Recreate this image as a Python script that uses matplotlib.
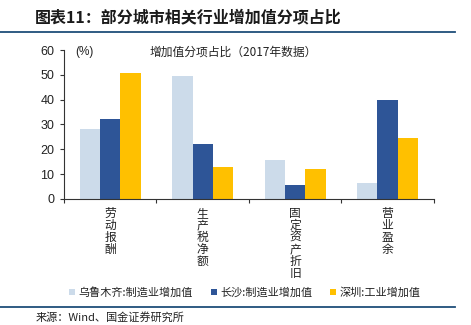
import matplotlib
matplotlib.use("Agg")
import matplotlib.pyplot as plt
import numpy as np

plt.rcParams["font.family"] = ["Noto Sans CJK SC", "DejaVu Sans"]

# 数据
categories = ["劳动报酬", "生产税净额", "固定资产折旧", "营业盈余"]
series_names = ["乌鲁木齐:制造业增加值", "长沙:制造业增加值", "深圳:工业增加值"]
urumqi = [28.2, 49.5, 15.5, 6.5]
changsha = [32.2, 22.3, 5.5, 40.0]
shenzhen = [50.6, 12.8, 12.0, 24.7]
yticks = [0, 10, 20, 30, 40, 50, 60]

COLORS = ["#CCDBEA", "#2E5597", "#FFC000"]
TEXT = "#222222"

fig = plt.figure(figsize=(4.71, 3.25), dpi=100)
fig.patch.set_facecolor("white")

# 标题
fig.text(0.075, 0.948, "图表11：部分城市相关行业增加值分项占比", fontsize=11.5,
         fontweight="bold", style="italic", color="#1a1a1a", va="center")
fig.add_artist(plt.Line2D([0.0, 0.965], [0.903, 0.903], color="#1F4E79", lw=1.3))

ax = fig.add_axes([0.136, 0.388, 0.785, 0.458])
x = np.arange(len(categories))
w = 0.22
for i, (vals, name) in enumerate(zip([urumqi, changsha, shenzhen], series_names)):
    ax.bar(x + (i - 1) * w, vals, w, color=COLORS[i], label=name, zorder=2)

ax.set_xlim(-0.5, len(categories) - 0.5)
ax.set_ylim(0, 60)
ax.set_yticks(yticks)
ax.set_yticklabels([str(v) for v in yticks], fontsize=9, color=TEXT,
                   family=["Liberation Sans", "DejaVu Sans"])
ax.set_xticks(np.arange(len(categories) + 1) - 0.5)
ax.set_xticklabels([])
ax.tick_params(axis="x", length=3, color="#333333", direction="out")
ax.tick_params(axis="y", length=3, color="#333333", direction="out", pad=4)
for s in ["top", "right"]:
    ax.spines[s].set_visible(False)
ax.spines["left"].set_color("#333333")
ax.spines["bottom"].set_color("#333333")

# 竖排分类标签
for xi, cat in zip(x, categories):
    ax.text(xi, -3.3, "\n".join(cat), ha="center", va="top", fontsize=8.5,
            color=TEXT, linespacing=0.9, transform=ax.transData, clip_on=False)

ax.text(0.03, 0.985, "(%)", transform=ax.transAxes, fontsize=8.5, color=TEXT,
        va="center", family=["Liberation Sans", "DejaVu Sans"])
ax.text(0.23, 0.985, "增加值分项占比（2017年数据）", transform=ax.transAxes,
        fontsize=8.5, color=TEXT, va="center")

leg = fig.legend(loc="center", bbox_to_anchor=(0.52, 0.1), ncol=3, frameon=False,
                 fontsize=8, handlelength=0.55, handleheight=0.55, handletextpad=0.3,
                 columnspacing=1.6)
for t in leg.get_texts():
    t.set_color(TEXT)

fig.add_artist(plt.Line2D([0.0, 0.965], [0.055, 0.055], color="#1F4E79", lw=1.3))
fig.text(0.076, 0.022, "来源：Wind、国金证券研究所", fontsize=8, color=TEXT, va="center")

fig.savefig("out.png", dpi=100, facecolor="white")
